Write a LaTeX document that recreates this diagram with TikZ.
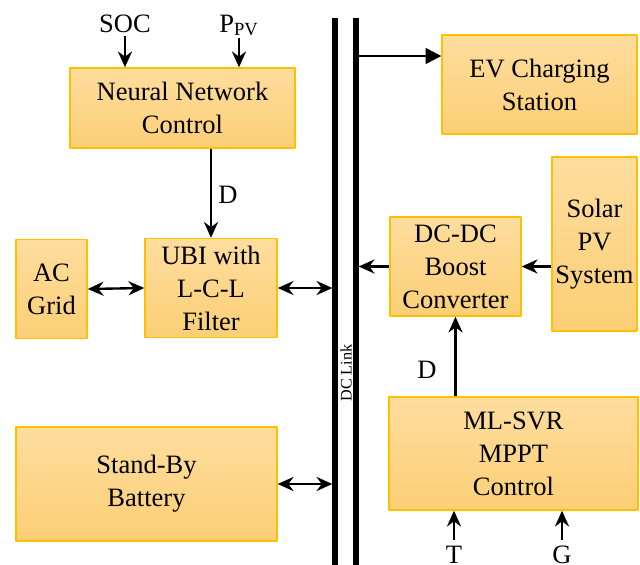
\documentclass[tikz,border=0pt]{standalone}
\usepackage{fontspec}
\setmainfont{Liberation Serif}
\newfontfamily\tnr{Liberation Serif}
\usetikzlibrary{arrows.meta}
\definecolor{boxtop}{RGB}{254,221,158}
\definecolor{boxbot}{RGB}{252,207,118}
\definecolor{boxline}{RGB}{255,192,0}

\begin{document}
\begin{tikzpicture}[x=0.02cm,y=-0.02cm,>={Stealth[length=9pt,width=8pt]},line join=round,
  blk/.style={draw=boxline,line width=0.8pt,top color=boxtop,bottom color=boxbot,
    align=center,inner sep=0pt,font=\tnr\fontsize{15.1}{18.8}\selectfont},
  lbl/.style={font=\tnr\fontsize{15.1}{18.8}\selectfont,inner sep=0pt},
  conn/.style={line width=1.35pt},
  bus/.style={line width=3pt}]

\useasboundingbox (0,0) rectangle (640,565);

%% ---------------- the DC link: two bus bars ----------------
\coordinate (barL) at (335,18);
\coordinate (barR) at (356,18);
\coordinate (barLend) at (335,575);
\coordinate (barRend) at (356,575);
\draw[bus] (barL) -- (barLend);
\draw[bus] (barR) -- (barRend);
\node[rotate=90,font=\tnr\fontsize{9.2}{11}\selectfont,inner sep=0pt] (dclink) at (346,373) {DC Link};

%% ---------------- blocks ----------------
\node[blk,minimum width=4.5cm,minimum height=1.6cm] (nn) at (182.5,108) {Neural Network\\Control};
\node[blk,minimum width=3.9cm,minimum height=1.98cm] (ev) at (539.5,84.5) {EV Charging\\Station};
\node[blk,minimum width=1.7cm,minimum height=3.48cm] (pv) at (594.5,244) {Solar\\PV\\System};
\node[blk,minimum width=2.62cm,minimum height=1.98cm] (boost) at (455.5,266.5) {DC-DC\\Boost\\Converter};
\node[blk,minimum width=1.42cm,minimum height=1.98cm] (grid) at (51.5,289) {AC\\Grid};
\node[blk,minimum width=2.64cm,minimum height=1.98cm] (ubi) at (211,288) {UBI with\\L-C-L\\Filter};
\node[blk,minimum width=5.22cm,minimum height=2.28cm] (bat) at (146.5,484) {Stand-By\\Battery};
\node[blk,minimum width=4.98cm,minimum height=2.26cm] (mppt) at (513.5,453.5) {ML-SVR\\MPPT\\Control};

%% ---------------- inputs and signal labels ----------------
\node[lbl,anchor=base] (soc) at (125,32) {SOC};
\node[lbl,anchor=base] (ppv) at (239,32) {P\textsubscript{PV}};
\node[lbl] (dnn) at (228,195) {D};
\node[lbl] (dmppt) at (427,370) {D};
\node[lbl,anchor=base] (temp) at (454,563) {T};
\node[lbl,anchor=base] (irr) at (562,563) {G};

%% ---------------- connectors ----------------
\draw[conn,->,shorten <=2pt] (soc.south) -- (soc.south |- nn.north);
\draw[conn,->,shorten <=1pt] (ppv.south) -- (ppv.south |- nn.north);
\draw[conn,->] (nn.south -| ubi.north) -- (ubi.north);
\draw[conn,<->] (grid.east) -- (ubi.west);
\draw[conn,<->,shorten >=1.5pt] (ubi.east) -- (ubi.east -| barL);
\draw[conn,<->,shorten >=1.5pt] (bat.east) -- (bat.east -| barL);
\coordinate (evIn) at ([yshift=0.57cm]ev.west);
\draw[conn,-{Triangle[length=9pt,width=9pt]}] (evIn -| barR) -- (evIn);
\draw[conn,->,shorten >=1.5pt] (boost.west) -- (boost.west -| barR);
\draw[conn,->] (pv.west |- boost.east) -- (boost.east);
\draw[conn,->] (mppt.north -| boost.south) -- (boost.south);
\draw[conn,->,shorten <=3pt] (temp.north) -- (temp.north |- mppt.south);
\draw[conn,->,shorten <=3pt] (irr.north) -- (irr.north |- mppt.south);

\end{tikzpicture}
\end{document}
